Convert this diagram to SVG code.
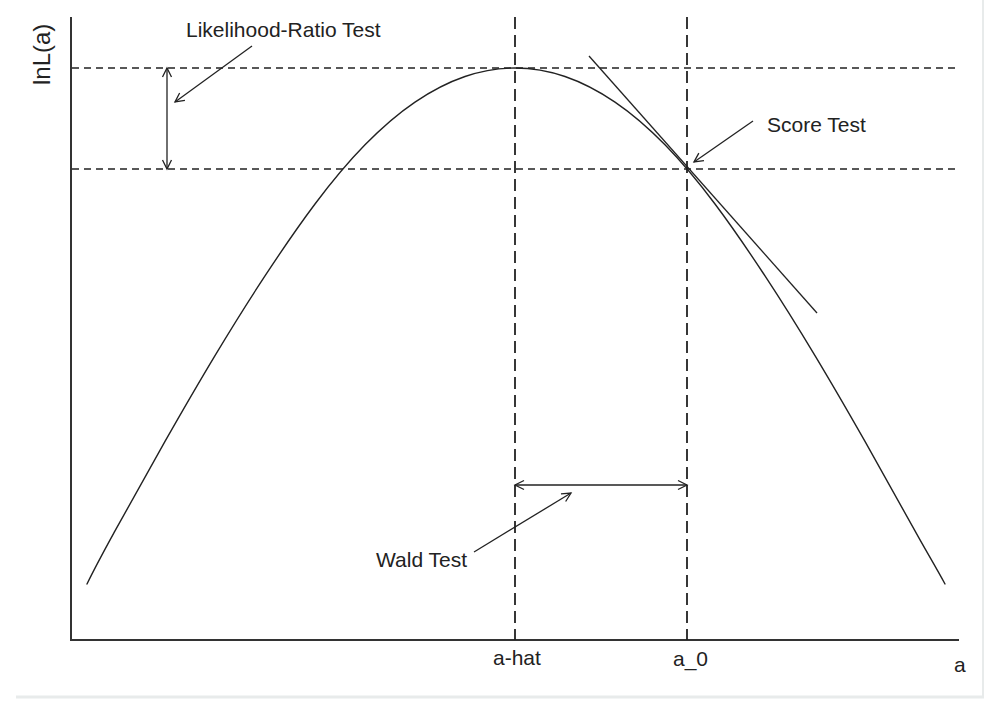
<svg xmlns="http://www.w3.org/2000/svg" width="1000" height="708" viewBox="0 0 1000 708">
  <defs>
    <marker id="vhead" markerUnits="userSpaceOnUse" markerWidth="12" markerHeight="12" refX="10" refY="5" orient="auto-start-reverse" overflow="visible">
      <path d="M1,0.5 L10,5 L1,9.5" fill="none" stroke="#222" stroke-width="1.3"/>
    </marker>
  </defs>
  <style>
    .lbl { font-family: "Liberation Sans", Arial, sans-serif; font-size: 21px; fill: #222; }
    .axis { stroke: #333; stroke-width: 2; fill: none; }
    .hdash { stroke: #222; stroke-width: 1.4; stroke-dasharray: 7 5; fill: none; }
    .vdash { stroke: #222; stroke-width: 1.8; stroke-dasharray: 12 6; fill: none; }
    .curve { stroke: #222; stroke-width: 1.4; fill: none; stroke-linejoin: round; stroke-linecap: round; }
    .arrow { stroke: #222; stroke-width: 1.3; fill: none; }
    .frame { stroke: #e8ebeb; fill: none; }
  </style>
  <rect x="0" y="0" width="1000" height="708" fill="#ffffff"/>
  <g id="frame">
    <line class="frame" x1="16" y1="697" x2="984" y2="697" stroke-width="3"/>
    <line class="frame" x1="983" y1="0" x2="983" y2="697" stroke-width="2"/>
  </g>
  <g id="axes">
    <polyline class="axis" points="71,17 71,640 959,640"/>
  </g>
  <g id="reference-lines">
    <line class="hdash" x1="72" y1="68" x2="959" y2="68"/>
    <line class="hdash" x1="72" y1="169" x2="959" y2="169"/>
    <line class="vdash" x1="515" y1="17" x2="515" y2="640"/>
    <line class="vdash" x1="687" y1="17" x2="687" y2="640"/>
  </g>
  <g id="log-likelihood-curve">
    <path class="curve" d="M87,584
      C96.33,564.8 105.67,547.9 115,530.9
      C131.67,500.6 148.33,470.7 165,441.4
      C181.67,412.1 198.33,383.3 215,355.6
      C231.67,327.9 248.33,301.2 265,275.9
      C281.67,250.6 298.33,226.2 315,204
      C331.67,181.8 348.33,161.8 365,144.8
      C381.67,127.8 398.33,113.4 415,102.1
      C431.67,90.8 448.33,82.2 465,76.5
      C481.67,70.8 498.33,68 515,68
      C531.67,68 548.33,70.8 565,76.5
      C581.67,82.2 598.33,90.8 615,102.1
      C631.67,113.4 648.33,127.8 665,144.8
      C681.67,161.8 698.33,181.8 715,204
      C731.67,226.2 748.33,250.6 765,275.9
      C781.67,301.2 798.33,327.9 815,355.6
      C831.67,383.3 848.33,412.1 865,441.4
      C881.67,470.7 898.33,500.6 915,530.9
      C925,549.1 935,565.6 945,584"/>
  </g>
  <g id="tangent">
    <line class="arrow" x1="589" y1="56" x2="817" y2="313"/>
  </g>
  <g id="connectors">
    <line class="arrow" x1="167" y1="68" x2="167" y2="169" marker-start="url(#vhead)" marker-end="url(#vhead)"/>
    <line class="arrow" x1="515" y1="485" x2="687" y2="485" marker-start="url(#vhead)" marker-end="url(#vhead)"/>
    <line class="arrow" x1="252" y1="46" x2="175" y2="102" marker-end="url(#vhead)"/>
    <line class="arrow" x1="753" y1="121" x2="694" y2="162" marker-end="url(#vhead)"/>
    <line class="arrow" x1="474" y1="552" x2="571" y2="493" marker-end="url(#vhead)"/>
  </g>
  <g id="label-lr"><text class="lbl" x="186" y="37">Likelihood-Ratio Test</text></g>
  <g id="label-score"><text class="lbl" x="767" y="132">Score Test</text></g>
  <g id="label-wald"><text class="lbl" x="376" y="567">Wald Test</text></g>
  <g id="label-ahat"><text class="lbl" x="493" y="665">a-hat</text></g>
  <g id="label-a0"><text class="lbl" x="673" y="666">a_0</text></g>
  <g id="label-a"><text class="lbl" x="954" y="672">a</text></g>
  <g id="label-y"><text class="lbl" style="font-size:24px" transform="translate(50,85) rotate(-90)">lnL(a)</text></g>
</svg>
